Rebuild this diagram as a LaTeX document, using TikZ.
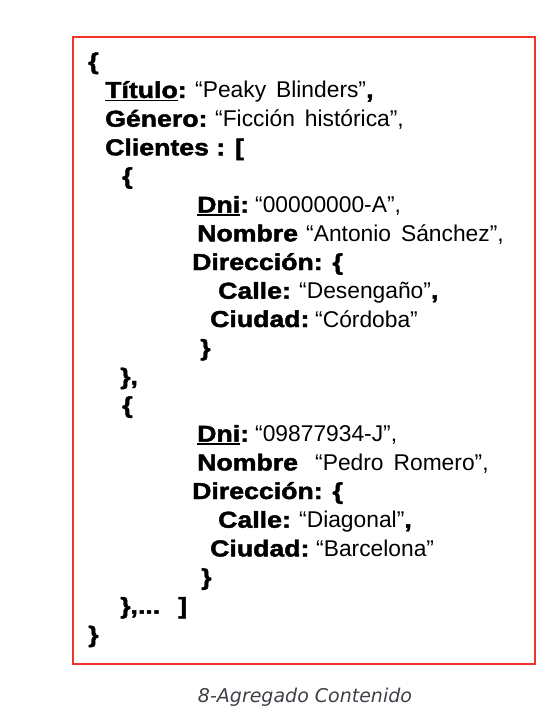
\documentclass[tikz,border=0pt]{standalone}
\usepackage{fontspec}
\setmainfont{Liberation Sans}
\newfontfamily\keyfont[FakeStretch=1.16,FakeBold=2]{Liberation Sans Bold}
\newfontfamily\capfont{DejaVu Sans}
\definecolor{boxred}{RGB}{240,52,44}
\definecolor{captxt}{RGB}{64,64,72}
\newcommand\K[1]{{\keyfont\fontsize{23bp}{27bp}\selectfont #1}}
\newcommand\V[1]{{\fontsize{22.8bp}{27bp}\selectfont\spaceskip=10bp #1}}
\newcommand\UL[1]{\setbox0\hbox{#1}\rlap{\rule[-3.2bp]{\wd0}{1.6bp}}\box0}
\tikzset{txt/.style={inner sep=0pt, anchor=base west, text=black}}
\begin{document}
\begin{tikzpicture}[x=1bp,y=-1bp]
\useasboundingbox (0,0) rectangle (536,707);
\draw[boxred, line width=2bp] (72.5,37.5) rectangle (534.5,663.5);
% line 1
\node[txt] (l1) at (88,69.3) {\K{\{}};
% line 2
\node[txt] (k2) at (105,98) {\K{\UL{Título}:}};
\node[txt] (v2) at (195,98) {\V{“Peaky Blinders”}\K{,}};
% line 3
\node[txt] (k3) at (105,126.7) {\K{Género:}};
\node[txt] (v3) at (215,126.7) {\V{“Ficción histórica”,}};
% line 4
\node[txt] (k4) at (105,155.3) {\K{Clientes : [}};
% line 5
\node[txt] (l5) at (122,184) {\K{\{}};
% first client
\node[txt] (k6) at (197,212.7) {\K{\UL{Dni}:}};
\node[txt] (v6) at (255,212.7) {\V{“00000000-A”,}};
\node[txt] (k7) at (197,241.3) {\K{Nombre}};
\node[txt] (v7) at (306,241.3) {\V{“Antonio Sánchez”,}};
\node[txt] (k8) at (192,270) {\K{Dirección: \{}};
\node[txt] (k9) at (218,298.7) {\K{Calle:}};
\node[txt] (v9) at (299,298.7) {\V{“Desengaño”}\K{,}};
\node[txt] (k10) at (210,327) {\K{Ciudad:}};
\node[txt] (v10) at (315,327) {\V{“Córdoba”}};
\node[txt] (l11) at (200,355.7) {\K{\}}};
\node[txt] (l12) at (120,384.4) {\K{\},}};
% second client
\node[txt] (l13) at (122,413) {\K{\{}};
\node[txt] (k14) at (197,441.7) {\K{\UL{Dni}:}};
\node[txt] (v14) at (255,441.7) {\V{“09877934-J”,}};
\node[txt] (k15) at (197,470.4) {\K{Nombre}};
\node[txt] (v15) at (315,470.4) {\V{“Pedro Romero”,}};
\node[txt] (k16) at (192,499) {\K{Dirección: \{}};
\node[txt] (k17) at (218,527.7) {\K{Calle:}};
\node[txt] (v17) at (299,527.7) {\V{“Diagonal”}\K{,}};
\node[txt] (k18) at (210,556.4) {\K{Ciudad:}};
\node[txt] (v18) at (316,556.4) {\V{“Barcelona”}};
\node[txt] (l19) at (201,585) {\K{\}}};
\node[txt] (l20) at (120,613.7) {\K{\},...}};
\node[txt] (l20b) at (178,613.7) {\K{]}};
\node[txt] (l21) at (88,642.4) {\K{\}}};
% caption
\node[inner sep=0pt, anchor=base, text=captxt] (cap) at (305,702) {\capfont\itshape\fontsize{19bp}{22bp}\selectfont 8-Agregado Contenido};
\end{tikzpicture}
\end{document}
